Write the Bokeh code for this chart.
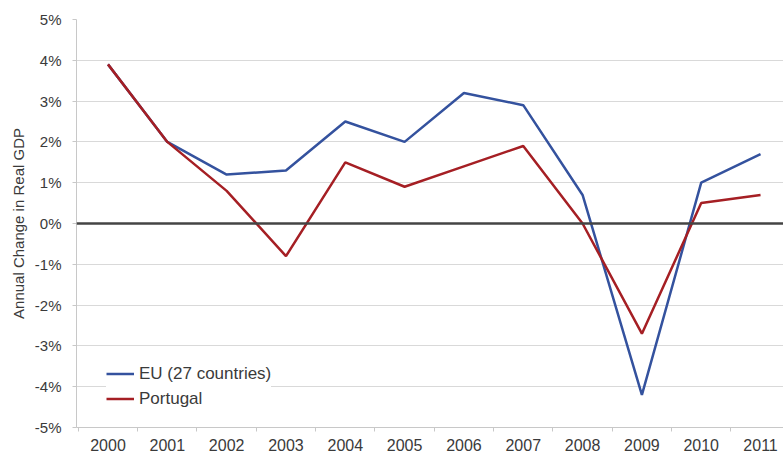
from bokeh.plotting import figure
from bokeh.models import Range1d, FixedTicker, PrintfTickFormatter, Span, Legend, LegendItem
from bokeh.embed import file_html
from bokeh.resources import INLINE

years = [2000, 2001, 2002, 2003, 2004, 2005, 2006, 2007, 2008, 2009, 2010, 2011]
eu27 = [3.9, 2.0, 1.2, 1.3, 2.5, 2.0, 3.2, 2.9, 0.7, -4.2, 1.0, 1.7]
portugal = [3.9, 2.0, 0.8, -0.8, 1.5, 0.9, 1.4, 1.9, 0.0, -2.7, 0.5, 0.7]
pct_ticks = [-5, -4, -3, -2, -1, 0, 1, 2, 3, 4, 5]

FONT = "Liberation Sans"
GRID = "#d9d9d9"
TEXT = "#3a3a3a"

p = figure(width=783, height=453, output_backend="svg", toolbar_location=None,
           x_range=Range1d(1999.469, 2011.387), y_range=Range1d(-5, 5),
           min_border_left=76, min_border_top=19, min_border_bottom=26,
           min_border_right=0)
p.outline_line_color = None
p.background_fill_color = "white"

# y axis
p.yaxis.ticker = FixedTicker(ticks=pct_ticks)
p.yaxis.formatter = PrintfTickFormatter(format="%d%%")
p.yaxis.axis_label = "Annual Change in Real GDP"
p.yaxis.axis_label_text_font = FONT
p.yaxis.axis_label_text_font_size = "15px"
p.yaxis.axis_label_text_font_style = "normal"
p.yaxis.axis_label_text_color = TEXT
p.yaxis.axis_label_standoff = 5
p.yaxis.major_label_text_font = FONT
p.yaxis.major_label_text_font_size = "15px"
p.yaxis.major_label_text_color = TEXT
p.yaxis.major_label_standoff = 11
p.yaxis.axis_line_color = "#c8c8c8"
p.yaxis.major_tick_line_color = "#c8c8c8"
p.yaxis.major_tick_out = 4
p.yaxis.major_tick_in = 0
p.yaxis.minor_tick_line_color = None

# x axis: labels on years, tick marks between them
p.xaxis.ticker = FixedTicker(ticks=years, minor_ticks=[y - 0.5 for y in years] + [years[-1] + 0.5])
p.xaxis.major_label_text_font = FONT
p.xaxis.major_label_text_font_size = "16px"
p.xaxis.major_label_text_color = TEXT
p.xaxis.major_label_standoff = 7
p.xaxis.axis_line_color = "#c8c8c8"
p.xaxis.major_tick_out = 0
p.xaxis.major_tick_in = 0
p.xaxis.minor_tick_out = 4
p.xaxis.minor_tick_in = 0
p.xaxis.minor_tick_line_color = "#c8c8c8"

p.xgrid.grid_line_color = None
p.ygrid.ticker = FixedTicker(ticks=pct_ticks)
p.ygrid.grid_line_color = GRID
p.ygrid.grid_line_width = 1

p.add_layout(Span(location=0, dimension="width", line_color="#444444", line_width=2.5))

r_eu = p.line(years, eu27, line_color="#34529e", line_width=2.5)
r_pt = p.line(years, portugal, line_color="#a51f24", line_width=2.5)

legend = Legend(items=[LegendItem(label="EU (27 countries)", renderers=[r_eu]),
                       LegendItem(label="Portugal", renderers=[r_pt])],
                location=(30, 18), margin=0, padding=15, spacing=4,
                glyph_width=28, glyph_height=21, label_height=21, label_standoff=5,
                label_text_font=FONT, label_text_font_size="17px", label_text_color=TEXT,
                border_line_color=None, background_fill_color="white", background_fill_alpha=1)
p.add_layout(legend, "center")

open("out.html", "w").write(file_html(p, INLINE))
